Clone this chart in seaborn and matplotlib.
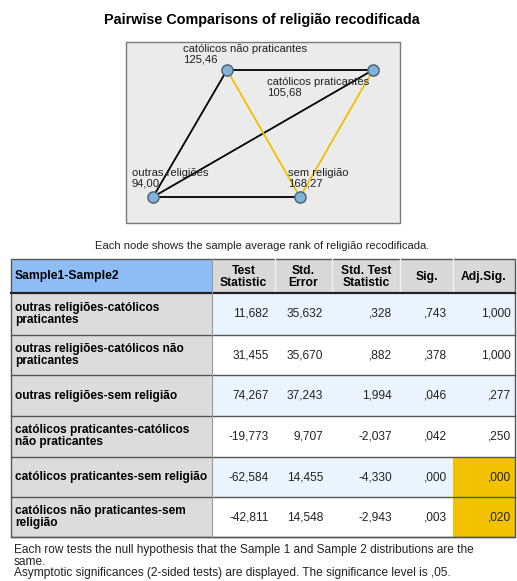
import numpy as np
import pandas as pd
import matplotlib
matplotlib.use("Agg")
import matplotlib.pyplot as plt
from matplotlib.patches import Rectangle
import seaborn as sns

# data
groups = ["católicos não praticantes", "católicos praticantes", "outras religiões", "sem religião"]
mean_ranks = ["125,46", "105,68", "94,00", "168,27"]
pairs = ["outras religiões-católicos\npraticantes",
         "outras religiões-católicos não\npraticantes",
         "outras religiões-sem religião",
         "católicos praticantes-católicos\nnão praticantes",
         "católicos praticantes-sem religião",
         "católicos não praticantes-sem\nreligião"]
edges = [("outras religiões", "católicos praticantes"),
         ("outras religiões", "católicos não praticantes"),
         ("outras religiões", "sem religião"),
         ("católicos praticantes", "católicos não praticantes"),
         ("católicos praticantes", "sem religião"),
         ("católicos não praticantes", "sem religião")]
test_stat = ["11,682", "31,455", "74,267", "-19,773", "-62,584", "-42,811"]
std_err = ["35,632", "35,670", "37,243", "9,707", "14,455", "14,548"]
std_test = [",328", ",882", "1,994", "-2,037", "-4,330", "-2,943"]
sig = [",743", ",378", ",046", ",042", ",000", ",003"]
adj_sig = [1.000, 1.000, 0.277, 0.250, 0.000, 0.020]
adj_sig_txt = ["1,000", "1,000", ",277", ",250", ",000", ",020"]
headers = ["Sample1-Sample2", "Test\nStatistic", "Std.\nError", "Std. Test\nStatistic", "Sig.", "Adj.Sig."]

# layout (pixel space)
node_xy = {"católicos não praticantes": (227, 70), "católicos praticantes": (373, 70),
           "outras religiões": (153, 197), "sem religião": (300, 197)}
label_xy = {"católicos não praticantes": (183, 44), "católicos praticantes": (267, 77),
            "outras religiões": (132, 168), "sem religião": (288, 168)}

plt.rcParams['font.family'] = ['Liberation Sans', 'DejaVu Sans']
W, H = 517, 581
fig = plt.figure(figsize=(W / 100, H / 100), dpi=100)
ax = fig.add_axes([0, 0, 1, 1])

ax.text(262, 20, "Pairwise Comparisons of religião recodificada", ha="center", va="center",
        fontsize=10.4, fontweight="bold")

# network panel
ax.add_patch(Rectangle((126, 42), 274, 181, facecolor="#ebebeb", edgecolor="#7a7a7a", lw=1))
for a, b in edges:
    i = edges.index((a, b))
    col = "#f0c000" if adj_sig[i] < 0.05 else "black"
    ax.plot([node_xy[a][0], node_xy[b][0]], [node_xy[a][1], node_xy[b][1]],
            color=col, lw=1.3, zorder=2)
nodes = pd.DataFrame({"g": groups,
                      "x": [node_xy[g][0] for g in groups],
                      "y": [node_xy[g][1] for g in groups]})
sns.scatterplot(data=nodes, x="x", y="y", s=65, color="#7fb3d8", edgecolor="#4c5f70",
                linewidth=1, ax=ax, zorder=3, legend=False)
ax.set_xlim(0, W)
ax.set_ylim(H, 0)
ax.axis("off")
for g, r in zip(groups, mean_ranks):
    lx, ly = label_xy[g]
    ax.text(lx, ly, f"{g}\n{r}", ha="left", va="top", fontsize=8.1, color="#222222",
            linespacing=1.05, zorder=4)

ax.text(262, 246, "Each node shows the sample average rank of religião recodificada.",
        ha="center", va="center", fontsize=8.1, color="#222222")

# table
col_x = [11, 212, 275, 332, 400, 453, 515]
row_y = [259, 293, 335, 375, 416, 457, 497, 537]
ax.add_patch(Rectangle((col_x[0], row_y[0]), col_x[1] - col_x[0], row_y[1] - row_y[0],
                       facecolor="#8dbdf4", edgecolor="none"))
ax.add_patch(Rectangle((col_x[1], row_y[0]), col_x[-1] - col_x[1], row_y[1] - row_y[0],
                       facecolor="#d9d9d9", edgecolor="none"))
for c in range(2, 6):
    ax.plot([col_x[c], col_x[c]], [row_y[0], row_y[1]], color="#f2f2f2", lw=1)
ax.text(15, (row_y[0] + row_y[1]) / 2, headers[0], ha="left", va="center",
        fontsize=8.7, fontweight="bold")
for c in range(1, 6):
    ax.text((col_x[c] + col_x[c + 1]) / 2, (row_y[0] + row_y[1]) / 2 + 1, headers[c],
            ha="center", va="center", fontsize=8.7, fontweight="bold", linespacing=1.0)

cols = [test_stat, std_err, std_test, sig, adj_sig_txt]
right_x = [269, 323, 392, 447, 511]
for r in range(6):
    y0, y1 = row_y[r + 1], row_y[r + 2]
    ym = (y0 + y1) / 2
    ax.add_patch(Rectangle((col_x[0], y0), col_x[1] - col_x[0], y1 - y0,
                           facecolor="#dcdcdc", edgecolor="none"))
    ax.add_patch(Rectangle((col_x[1], y0), col_x[-1] - col_x[1], y1 - y0,
                           facecolor="#eaf4fe" if r % 2 == 0 else "white", edgecolor="none"))
    if adj_sig[r] < 0.05:
        ax.add_patch(Rectangle((col_x[5], y0), col_x[6] - col_x[5], y1 - y0,
                               facecolor="#f2c200", edgecolor="none"))
    ax.text(15, ym, pairs[r], ha="left", va="center", fontsize=8.6, fontweight="bold",
            linespacing=1.0)
    for c in range(5):
        ax.text(right_x[c], ym, cols[c][r], ha="right", va="center", fontsize=8.6, color="#222222")
    ax.plot([col_x[0], col_x[-1]], [y1, y1], color="#555555", lw=1)

ax.plot([col_x[0], col_x[-1]], [row_y[1], row_y[1]], color="#222222", lw=1.6)
ax.plot([col_x[1], col_x[1]], [row_y[0], row_y[-1]], color="#9a9a9a", lw=0.8)
ax.add_patch(Rectangle((col_x[0], row_y[0]), col_x[-1] - col_x[0], row_y[-1] - row_y[0],
                       facecolor="none", edgecolor="#555555", lw=1))

ax.text(14, 544, "Each row tests the null hypothesis that the Sample 1 and Sample 2 distributions are the\nsame.\n"
        "Asymptotic significances (2-sided tests) are displayed. The significance level is ,05.",
        ha="left", va="top", fontsize=8.6, color="#222222", linespacing=0.96)

fig.savefig("out.png", dpi=100)
